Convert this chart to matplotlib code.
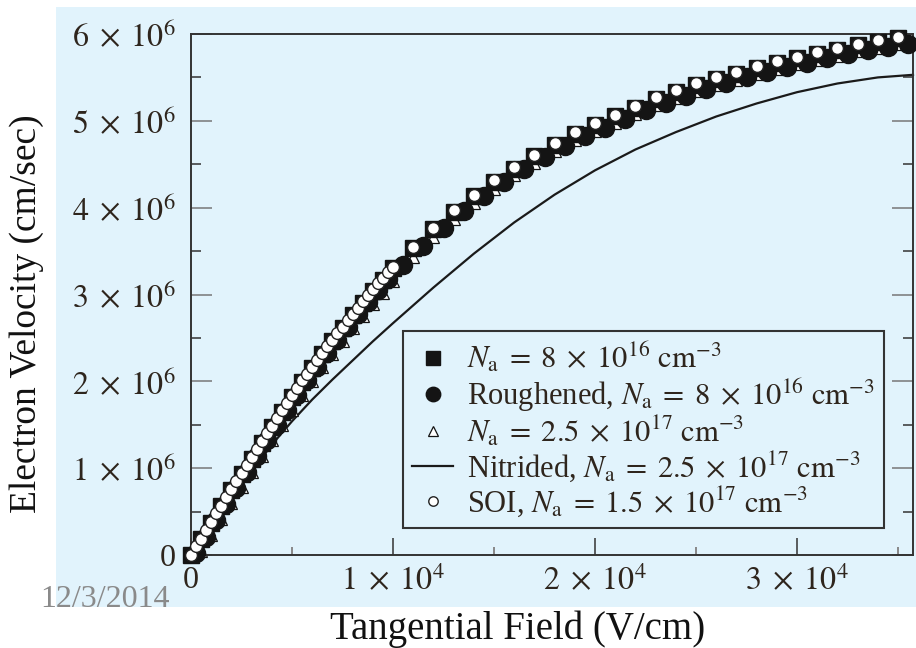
import matplotlib
matplotlib.use('Agg')
import matplotlib.pyplot as plt
from matplotlib.patches import Rectangle
from matplotlib.ticker import FixedLocator, MultipleLocator, FixedFormatter

plt.rcParams['font.family'] = 'serif'
plt.rcParams['font.serif'] = ['Liberation Serif', 'DejaVu Serif']
plt.rcParams['mathtext.fontset'] = 'stix'

# ---------------- data (field in V/cm, velocity in 1e6 cm/s) ----------------
squares_field = [0, 500, 1000, 1500, 2000, 2500, 3000, 3500, 4000, 4500, 5000,
                 5500, 6000, 6500, 7000, 7500, 8000, 8500, 9000, 9500, 10000,
                 11000, 12000, 13000, 14000, 15000, 16000, 17000, 18000, 19000,
                 20000, 21000, 22000, 23000, 24000, 25000, 26000, 27000, 28000,
                 29000, 30000, 31000, 32000, 33000, 34000, 35000]
squares_vel = [0.00, 0.18, 0.37, 0.56, 0.75, 0.93, 1.11, 1.29, 1.47, 1.65, 1.82,
               1.99, 2.15, 2.31, 2.46, 2.61, 2.76, 2.90, 3.04, 3.17, 3.30,
               3.53, 3.75, 3.95, 4.13, 4.30, 4.45, 4.59, 4.72, 4.85, 4.95, 5.05,
               5.15, 5.25, 5.33, 5.41, 5.48, 5.54, 5.61, 5.67, 5.72, 5.77, 5.82,
               5.87, 5.91, 5.95]

rough_field = [250, 750, 1250, 1750, 2250, 2750, 3250, 3750, 4250, 4750, 5250,
               5750, 6250, 6750, 7250, 7750, 8250, 8750, 9250, 9750,
               10500, 11500, 12500, 13500, 14500, 15500, 16500, 17500, 18500,
               19500, 20500, 21500, 22500, 23500, 24500, 25500, 26500, 27500,
               28500, 29500, 30500, 31500, 32500, 33500, 34500, 35500]
rough_vel = [0.02, 0.21, 0.40, 0.59, 0.77, 0.96, 1.14, 1.32, 1.50, 1.67, 1.84,
             2.01, 2.17, 2.33, 2.48, 2.63, 2.77, 2.91, 3.05, 3.18,
             3.34, 3.56, 3.77, 3.96, 4.14, 4.30, 4.44, 4.58, 4.71, 4.82, 4.92,
             5.02, 5.12, 5.21, 5.29, 5.37, 5.43, 5.50, 5.56, 5.62, 5.67, 5.72,
             5.77, 5.81, 5.85, 5.89]

tri_field = [0, 500, 1000, 1500, 2000, 2500, 3000, 3500, 4000, 4500, 5000,
             5500, 6000, 6500, 7000, 7500, 8000, 8500, 9000, 9500, 10000,
             11000, 12000, 13000, 14000, 15000, 16000, 17000, 18000, 19000,
             20000, 21000, 22000, 23000, 24000, 25000, 26000, 27000, 28000,
             29000, 30000, 31000, 32000, 33000, 34000, 35000, 35500]
tri_vel = [0.00, 0.05, 0.23, 0.41, 0.60, 0.78, 0.96, 1.14, 1.32, 1.50, 1.67,
           1.84, 2.00, 2.16, 2.31, 2.46, 2.61, 2.75, 2.89, 3.02, 3.16,
           3.43, 3.66, 3.87, 4.05, 4.22, 4.38, 4.52, 4.65, 4.78, 4.88, 4.98,
           5.08, 5.18, 5.26, 5.34, 5.41, 5.47, 5.54, 5.60, 5.65, 5.70, 5.75,
           5.80, 5.84, 5.88, 5.93]

nitrided_field = [0, 1000, 2000, 3000, 4000, 5000, 6000, 7000, 8000, 9000, 10000,
                  12000, 14000, 16000, 18000, 20000, 22000, 24000, 26000, 28000,
                  30000, 32000, 34000, 35740]
nitrided_vel = [0.00, 0.32, 0.64, 0.96, 1.27, 1.54, 1.79, 2.02, 2.24, 2.46, 2.67,
                3.08, 3.47, 3.83, 4.15, 4.43, 4.67, 4.87, 5.05, 5.20, 5.33, 5.43,
                5.50, 5.53]

soi_field = [0, 250, 500, 750, 1000, 1250, 1500, 1750, 2000, 2250, 2500, 2750,
             3000, 3250, 3500, 3750, 4000, 4250, 4500, 4750, 5000, 5250, 5500,
             5750, 6000, 6250, 6500, 6750, 7000, 7250, 7500, 7750, 8000, 8250,
             8500, 8750, 9000, 9250, 9500, 9750, 10000,
             11000, 12000, 13000, 14000, 15000, 16000, 17000, 18000, 19000,
             20000, 21000, 22000, 23000, 24000, 25000, 26000, 27000, 28000,
             29000, 30000, 31000, 32000, 33000, 34000, 35000]
soi_vel = [0.00, 0.10, 0.19, 0.29, 0.38, 0.48, 0.57, 0.67, 0.76, 0.85, 0.95, 1.04,
           1.13, 1.22, 1.31, 1.40, 1.49, 1.58, 1.67, 1.75, 1.84, 1.92, 2.01,
           2.09, 2.17, 2.25, 2.33, 2.41, 2.48, 2.56, 2.63, 2.71, 2.78, 2.85,
           2.92, 2.99, 3.06, 3.13, 3.19, 3.26, 3.32,
           3.55, 3.77, 3.97, 4.15, 4.32, 4.47, 4.61, 4.74, 4.87, 4.97, 5.07,
           5.17, 5.27, 5.35, 5.43, 5.50, 5.56, 5.63, 5.69, 5.74, 5.79, 5.84,
           5.89, 5.93, 5.97]

legend_labels = [
    r'$N_{\mathrm{a}}\;=\;8\;\times\;10^{16}\ \mathrm{cm}^{-3}$',
    r'Roughened, $N_{\mathrm{a}}\;=\;8\;\times\;10^{16}\ \mathrm{cm}^{-3}$',
    r'$N_{\mathrm{a}}\;=\;2.5\;\times\;10^{17}\ \mathrm{cm}^{-3}$',
    r'Nitrided, $N_{\mathrm{a}}\;=\;2.5\;\times\;10^{17}\ \mathrm{cm}^{-3}$',
    r'SOI, $N_{\mathrm{a}}\;=\;1.5\;\times\;10^{17}\ \mathrm{cm}^{-3}$',
]

x_tick_values = [0, 10000, 20000, 30000]
x_tick_labels = ['0', r'$1\;\times\;10^{4}$', r'$2\;\times\;10^{4}$', r'$3\;\times\;10^{4}$']
y_tick_values = [0, 1e6, 2e6, 3e6, 4e6, 5e6, 6e6]
y_tick_labels = ['0', r'$1\;\times\;10^{6}$', r'$2\;\times\;10^{6}$', r'$3\;\times\;10^{6}$',
                 r'$4\;\times\;10^{6}$', r'$5\;\times\;10^{6}$', r'$6\;\times\;10^{6}$']

# ---------------- figure ----------------
BLUE = '#E1F3FC'
TXT = '#2e251d'
W, H = 916, 648
fig = plt.figure(figsize=(W / 100, H / 100), dpi=100)
fig.patch.set_facecolor('white')
fig.patches.append(Rectangle((56 / W, 1 - 607 / H), 860 / W, 600 / H,
                             transform=fig.transFigure, facecolor=BLUE,
                             edgecolor='none', zorder=-10))

ax = fig.add_axes([191 / W, 1 - 555 / H, 722 / W, 521 / H])
ax.set_facecolor(BLUE)

def scaled(v):
    return [val * 1e6 for val in v]

ax.plot(squares_field, scaled(squares_vel), linestyle='none', marker='s',
        markersize=12, color='#141414', markeredgecolor='#141414',
        label=legend_labels[0], zorder=3, clip_on=False)
ax.plot(rough_field, scaled(rough_vel), linestyle='none', marker='o',
        markersize=13, color='#141414', markeredgecolor='#141414',
        label=legend_labels[1], zorder=3, clip_on=False)
ax.plot(tri_field, scaled(tri_vel), linestyle='none', marker='^',
        markersize=9, markerfacecolor='white', markeredgecolor='#141414',
        markeredgewidth=0.9, label=legend_labels[2], zorder=2.5, clip_on=False)
ax.plot(nitrided_field, scaled(nitrided_vel), linestyle='-', color='#1a1a1a',
        linewidth=1.6, label=legend_labels[3], zorder=2, clip_on=False)
ax.plot(soi_field, scaled(soi_vel), linestyle='none', marker='o',
        markersize=8.5, markerfacecolor='white', markeredgecolor='#222222',
        markeredgewidth=1.0, label=legend_labels[4], zorder=5, clip_on=False)

ax.set_xlim(0, 35740)
ax.set_ylim(0, 6e6)

ax.xaxis.set_major_locator(FixedLocator(x_tick_values))
ax.xaxis.set_major_formatter(FixedFormatter(x_tick_labels))
ax.xaxis.set_minor_locator(MultipleLocator(5000))
ax.yaxis.set_major_locator(FixedLocator(y_tick_values))
ax.yaxis.set_major_formatter(FixedFormatter(y_tick_labels))
ax.yaxis.set_minor_locator(MultipleLocator(0.5e6))

ax.tick_params(axis='y', which='both', direction='in', left=True, right=True,
               labelsize=23, labelcolor=TXT, pad=11)
ax.tick_params(axis='y', which='major', length=15, width=1.1, color='#777777')
ax.tick_params(axis='y', which='minor', length=7.5, width=1.1, color='#333333')
ax.tick_params(axis='x', which='both', direction='in', bottom=True, top=False,
               labelsize=23, labelcolor=TXT, pad=8)
ax.tick_params(axis='x', which='major', length=12, width=1.1, color='#333333')
ax.tick_params(axis='x', which='minor', length=6, width=1.4, color='#888888')

for sp in ax.spines.values():
    sp.set_color('#333333')
    sp.set_linewidth(1.4)

ax.set_xlabel('Tangential Field (V/cm)', fontsize=28, color='#111111')
ax.xaxis.set_label_coords((518 - 191) / 722, (555 - 639) / 521)
ax.xaxis.label.set_va('baseline')
ax.set_ylabel('Electron Velocity (cm/sec)', fontsize=27, color='#111111')
ax.yaxis.set_label_coords((27 - 191) / 722, (555 - 314) / 521)
ax.yaxis.label.set_va('center')

leg = ax.legend(loc='lower right', bbox_to_anchor=((884 - 191) / 722, (555 - 528) / 521),
                bbox_transform=ax.transAxes, borderaxespad=0, fontsize=22,
                frameon=True, fancybox=False, edgecolor='#333333', facecolor=BLUE,
                framealpha=1, handlelength=1.35, handletextpad=0.45,
                labelspacing=0.02, borderpad=0.3, markerscale=0.8)
leg.get_frame().set_linewidth(1.5)
leg.set_zorder(6)
for t in leg.get_texts():
    t.set_color(TXT)

fig.text(40 / W, 1 - 607 / H, '12/3/2014', fontsize=23, color='#8a8a8a',
         ha='left', va='baseline')

fig.savefig('out.png', dpi=100)
